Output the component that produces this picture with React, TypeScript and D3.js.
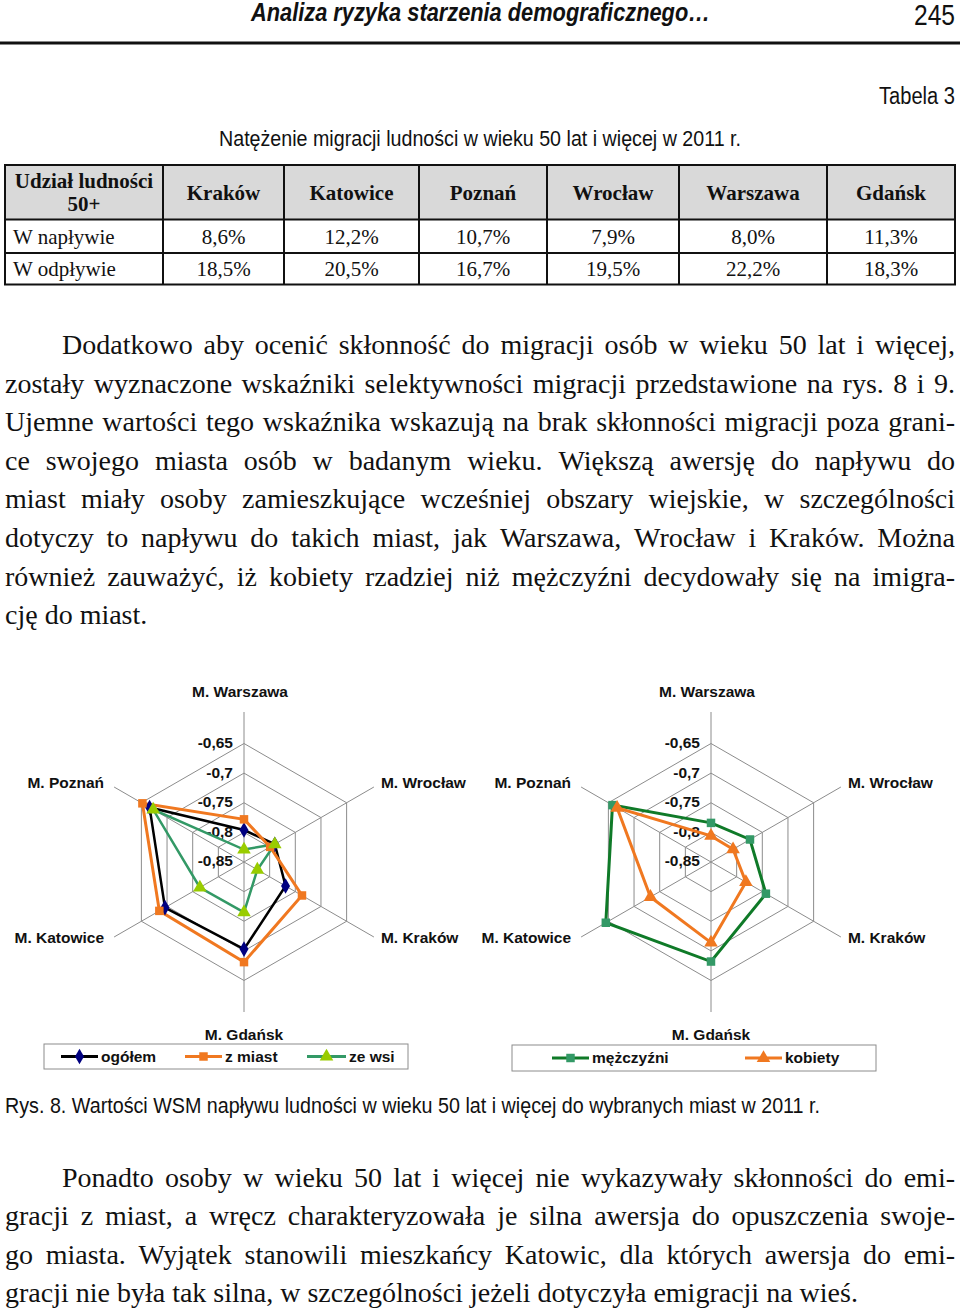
import React, { useEffect, useRef } from 'react';
import * as d3 from 'd3';

// ---------- DATA ----------
const TABLE_HEAD = ['Kraków', 'Katowice', 'Poznań', 'Wrocław', 'Warszawa', 'Gdańsk'];
const ROW_LABELS = ['W napływie', 'W odpływie'];
const NAPLYW = ['8,6%', '12,2%', '10,7%', '7,9%', '8,0%', '11,3%'];
const ODPLYW = ['18,5%', '20,5%', '16,7%', '19,5%', '22,2%', '18,3%'];

const AXES = ['M. Warszawa', 'M. Wrocław', 'M. Kraków', 'M. Gdańsk', 'M. Katowice', 'M. Poznań'];
const TICKS = [-0.85, -0.8, -0.75, -0.7, -0.65];
const TICK_LABELS = ['-0,85', '-0,8', '-0,75', '-0,7', '-0,65'];

const OGOLEM = [-0.796, -0.79, -0.769, -0.703, -0.696, -0.666];
const Z_MIAST = [-0.778, -0.799, -0.737, -0.681, -0.685, -0.652];
const ZE_WSI = [-0.829, -0.79, -0.824, -0.765, -0.764, -0.673];
const MEZCZYZNI = [-0.784, -0.774, -0.743, -0.682, -0.645, -0.658];
const KOBIETY = [-0.806, -0.807, -0.782, -0.714, -0.732, -0.667];

const PARA1 = [
  'Dodatkowo aby ocenić skłonność do migracji osób w wieku 50 lat i więcej,',
  'zostały wyznaczone wskaźniki selektywności migracji przedstawione na rys. 8 i 9.',
  'Ujemne wartości tego wskaźnika wskazują na brak skłonności migracji poza grani-',
  'ce swojego miasta osób w badanym wieku. Większą awersję do napływu do',
  'miast miały osoby zamieszkujące wcześniej obszary wiejskie, w szczególności',
  'dotyczy to napływu do takich miast, jak Warszawa, Wrocław i Kraków. Można',
  'również zauważyć, iż kobiety rzadziej niż mężczyźni decydowały się na imigra-',
  'cję do miast.',
];
const PARA2 = [
  'Ponadto osoby w wieku 50 lat i więcej nie wykazywały skłonności do emi-',
  'gracji z miast, a wręcz charakteryzowała je silna awersja do opuszczenia swoje-',
  'go miasta. Wyjątek stanowili mieszkańcy Katowic, dla których awersja do emi-',
  'gracji nie była tak silna, w szczególności jeżeli dotyczyła emigracji na wieś.',
];

// ---------- STYLE ----------
const SERIF = "'Liberation Serif','Times New Roman',serif";
const NARROW = "'Liberation Sans Narrow','Arial Narrow','Liberation Sans',Arial,sans-serif";
const SANS = "'Liberation Sans',Arial,sans-serif";
const ORANGE = '#f07820';

type Series = { name: string; values: number[]; line: string; marker: string; fill: string; width: number };

const LEFT_SERIES: Series[] = [
  { name: 'ogółem', values: OGOLEM, line: '#000000', marker: 'diamond', fill: '#000080', width: 2.5 },
  { name: 'z miast', values: Z_MIAST, line: ORANGE, marker: 'square', fill: ORANGE, width: 3 },
  { name: 'ze wsi', values: ZE_WSI, line: '#339966', marker: 'triangle', fill: '#99cc00', width: 2.5 },
];
const RIGHT_SERIES: Series[] = [
  { name: 'mężczyźni', values: MEZCZYZNI, line: '#0f7a28', marker: 'square', fill: '#339966', width: 3 },
  { name: 'kobiety', values: KOBIETY, line: ORANGE, marker: 'triangle', fill: ORANGE, width: 3 },
];

function symbolPath(kind: string) {
  if (kind === 'diamond') return d3.symbol(d3.symbolDiamond, 70)()!;
  if (kind === 'square') return d3.symbol(d3.symbolSquare, 72)()!;
  return d3.symbol(d3.symbolTriangle, 80)()!;
}

const R = 118.5;
const SPOKE = 150;

function Radar({ cx, cy, series }: { cx: number; cy: number; series: Series[] }) {
  const r = d3.scaleLinear().domain([-0.85, -0.65]).range([0, R]);
  const n = AXES.length;
  const ang = (i: number) => (i * 2 * Math.PI) / n;
  const pt = (i: number, rad: number): [number, number] => [cx + rad * Math.sin(ang(i)), cy - rad * Math.cos(ang(i))];
  const radial = d3
    .lineRadial<number>()
    .angle((_, i) => ang(i))
    .radius((d) => r(d))
    .curve(d3.curveLinearClosed);
  const ring = (v: number) => AXES.map((_, i) => pt(i, r(v)).join(',')).join(' ');
  return (
    <g>
      {TICKS.slice(1).map((t) => (
        <polygon key={t} points={ring(t)} fill="none" stroke="#8c8c8c" strokeWidth={1} />
      ))}
      {AXES.map((_, i) => {
        const [x, y] = pt(i, SPOKE);
        return <line key={i} x1={cx} y1={cy} x2={x} y2={y} stroke="#8c8c8c" strokeWidth={1} />;
      })}
      {AXES.map((a, i) => {
        const [x, y] = pt(i, SPOKE);
        const s = Math.sin(ang(i));
        const c = Math.cos(ang(i));
        let anchor = 'middle';
        let tx = x;
        let ty = y;
        if (Math.abs(s) < 0.01) {
          ty = c > 0 ? y - 20 : y + 23;
          tx = c > 0 ? x - 4 : x;
        } else if (s > 0) {
          anchor = 'start';
          tx = x + 7;
          ty = c > 0 ? y - 4 : y + 1;
        } else {
          anchor = 'end';
          tx = x - 10;
          ty = c > 0 ? y - 4 : y + 1;
        }
        return (
          <text key={a} x={tx} y={ty} dy="0.35em" textAnchor={anchor} fontFamily={SANS} fontWeight="bold" fontSize={15.5} fill="#111">
            {a}
          </text>
        );
      })}
      {TICKS.map((t, i) => (
        <text key={t} x={cx - 11} y={cy - r(t) - 1} dy="0.35em" textAnchor="end" fontFamily={SANS} fontWeight="bold" fontSize={15.5} fill="#111">
          {TICK_LABELS[i]}
        </text>
      ))}
      {series.map((s) => (
        <path key={s.name} d={radial(s.values)!} transform={`translate(${cx},${cy})`} fill="none" stroke={s.line} strokeWidth={s.width} strokeLinejoin="miter" />
      ))}
      {series.map((s) =>
        s.values.map((v, i) => {
          const [x, y] = pt(i, r(v));
          return <path key={s.name + i} d={symbolPath(s.marker)} transform={`translate(${x},${y})`} fill={s.fill} />;
        })
      )}
    </g>
  );
}

function Legend({ x, y, w, h, series, items }: { x: number; y: number; w: number; h: number; series: Series[]; items: number[][] }) {
  return (
    <g>
      <rect x={x} y={y} width={w} height={h} fill="#fff" stroke="#8c8c8c" strokeWidth={1} />
      {series.map((s, i) => {
        const [x1, x2] = items[i];
        const cy = y + h / 2;
        return (
          <g key={s.name}>
            <line x1={x1} x2={x2} y1={cy} y2={cy} stroke={s.line} strokeWidth={3} />
            <path d={symbolPath(s.marker)} transform={`translate(${(x1 + x2) / 2},${cy})`} fill={s.fill} />
            <text x={x2 + 3} y={cy} dy="0.35em" fontFamily={SANS} fontWeight="bold" fontSize={15.5} fill="#111">
              {s.name}
            </text>
          </g>
        );
      })}
    </g>
  );
}

const COLS = [5, 163, 284, 419, 547, 679, 827, 955];
const ROWS = [165, 219.5, 253, 284.5];

export default function App() {
  const paraRef = useRef<SVGGElement>(null);

  useEffect(() => {
    const g = d3.select(paraRef.current);
    g.selectAll('*').remove();
    const draw = (lines: string[], y0: number) => {
      lines.forEach((line, i) => {
        const x0 = i === 0 ? 62 : 5;
        const y = y0 + i * 38.6;
        if (i === lines.length - 1) {
          g.append('text').attr('x', x0).attr('y', y).text(line);
          return;
        }
        const words = line.split(' ');
        const nodes = words.map((w) => g.append('text').attr('y', y).text(w));
        const widths = nodes.map((nd) => (nd.node() as SVGTextElement).getComputedTextLength());
        const gap = (955 - x0 - d3.sum(widths)) / (words.length - 1);
        let x = x0;
        nodes.forEach((nd, k) => {
          nd.attr('x', x);
          x += widths[k] + gap;
        });
      });
    };
    draw(PARA1, 354);
    draw(PARA2, 1186.5);
  }, []);

  return (
    <svg width={960} height={1312} style={{ position: 'absolute', left: 0, top: 0, background: '#fff' }}>
      <rect width={960} height={1312} fill="#fff" />
      {/* header */}
      <text x={251} y={21} fontFamily={NARROW} fontWeight="bold" fontStyle="italic" fontSize={25} textLength={459} lengthAdjust="spacingAndGlyphs" fill="#111">
        Analiza ryzyka starzenia demograficznego…
      </text>
      <text x={955} y={25} textAnchor="end" fontFamily={NARROW} fontSize={29} textLength={41} lengthAdjust="spacingAndGlyphs" fill="#111">
        245
      </text>
      <rect x={0} y={41.5} width={960} height={3} fill="#111" />
      <text x={955} y={104} textAnchor="end" fontFamily={NARROW} fontSize={23} textLength={76} lengthAdjust="spacingAndGlyphs" fill="#111">
        Tabela 3
      </text>
      <text x={219} y={146} fontFamily={NARROW} fontSize={22} textLength={522} lengthAdjust="spacingAndGlyphs" fill="#111">
        Natężenie migracji ludności w wieku 50 lat i więcej w 2011 r.
      </text>

      {/* table */}
      <rect x={COLS[0]} y={ROWS[0]} width={COLS[7] - COLS[0]} height={ROWS[1] - ROWS[0]} fill="#d9d9d9" />
      {ROWS.map((y) => (
        <line key={y} x1={COLS[0] - 1} x2={COLS[7] + 1} y1={y} y2={y} stroke="#111" strokeWidth={2} />
      ))}
      {COLS.map((x) => (
        <line key={x} x1={x} x2={x} y1={ROWS[0]} y2={ROWS[3]} stroke="#111" strokeWidth={2} />
      ))}
      <g fontFamily={SERIF} fill="#111" fontSize={21}>
        <text x={(COLS[0] + COLS[1]) / 2} y={188} textAnchor="middle" fontWeight="bold">Udział ludności</text>
        <text x={(COLS[0] + COLS[1]) / 2} y={211} textAnchor="middle" fontWeight="bold">50+</text>
        {TABLE_HEAD.map((h, i) => (
          <text key={h} x={(COLS[i + 1] + COLS[i + 2]) / 2} y={200} textAnchor="middle" fontWeight="bold">
            {h}
          </text>
        ))}
        <text x={13} y={244}>{ROW_LABELS[0]}</text>
        <text x={13} y={276}>{ROW_LABELS[1]}</text>
        {NAPLYW.map((v, i) => (
          <text key={'n' + i} x={(COLS[i + 1] + COLS[i + 2]) / 2} y={244} textAnchor="middle">
            {v}
          </text>
        ))}
        {ODPLYW.map((v, i) => (
          <text key={'o' + i} x={(COLS[i + 1] + COLS[i + 2]) / 2} y={276} textAnchor="middle">
            {v}
          </text>
        ))}
      </g>

      {/* paragraphs */}
      <g ref={paraRef} fontFamily={SERIF} fontSize={28} fill="#111" />

      {/* charts */}
      <Radar cx={244} cy={862} series={LEFT_SERIES} />
      <Radar cx={711} cy={862} series={RIGHT_SERIES} />
      <Legend x={44} y={1044} w={364} h={25} series={LEFT_SERIES} items={[[61, 98], [185, 222], [307, 346]]} />
      <Legend x={512} y={1045} w={364} h={26} series={RIGHT_SERIES} items={[[552, 589], [745, 782]]} />

      <text x={5} y={1113} fontFamily={NARROW} fontSize={22} textLength={815} lengthAdjust="spacingAndGlyphs" fill="#111">
        Rys. 8. Wartości WSM napływu ludności w wieku 50 lat i więcej do wybranych miast w 2011 r.
      </text>
    </svg>
  );
}
